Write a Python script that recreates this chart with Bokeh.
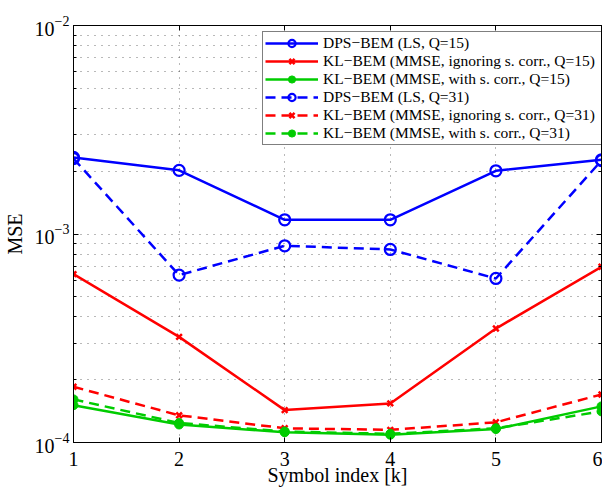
from bokeh.plotting import figure
from bokeh.models import (FixedTicker, LinearAxis, LogAxis, Legend, LegendItem,
                          CustomJSTickFormatter, Range1d)
from bokeh.embed import file_html
from bokeh.resources import INLINE

# ---- data ----
k = [1, 2, 3, 4, 5, 6]
dps_ls_q15 = [2.33e-3, 2.02e-3, 1.17e-3, 1.17e-3, 2.01e-3, 2.27e-3]
kl_ign_q15 = [6.42e-4, 3.21e-4, 1.43e-4, 1.54e-4, 3.52e-4, 6.96e-4]
kl_cor_q15 = [1.51e-4, 1.22e-4, 1.12e-4, 1.09e-4, 1.16e-4, 1.49e-4]
dps_ls_q31 = [2.30e-3, 6.35e-4, 8.78e-4, 8.43e-4, 6.12e-4, 2.25e-3]
kl_ign_q31 = [1.85e-4, 1.35e-4, 1.17e-4, 1.15e-4, 1.25e-4, 1.70e-4]
kl_cor_q31 = [1.61e-4, 1.24e-4, 1.13e-4, 1.10e-4, 1.17e-4, 1.41e-4]

labels = [
    "DPS\u2212BEM (LS, Q=15)",
    "KL\u2212BEM (MMSE, ignoring s. corr., Q=15)",
    "KL\u2212BEM (MMSE, with s. corr., Q=15)",
    "DPS\u2212BEM (LS, Q=31)",
    "KL\u2212BEM (MMSE, ignoring s. corr., Q=31)",
    "KL\u2212BEM (MMSE, with s. corr., Q=31)",
]

x_ticks = [1, 2, 3, 4, 5, 6]
y_major_ticks = [1e-4, 1e-3, 1e-2]
y_minor_ticks = [2e-4, 3e-4, 4e-4, 5e-4, 6e-4, 7e-4, 8e-4, 9e-4,
                 2e-3, 3e-3, 4e-3, 5e-3, 6e-3, 7e-3, 8e-3, 9e-3]

BLUE, RED, GREEN = "#0000ff", "#ff0000", "#00cc00"
FONT = "Liberation Serif"
DASH = "10 6"

p = figure(frame_width=528, frame_height=417, y_axis_type="log",
           x_range=Range1d(1, 6), y_range=Range1d(1e-4, 1e-2),
           output_backend="svg", toolbar_location=None,
           min_border_left=68, min_border_right=1,
           min_border_top=25, min_border_bottom=41,
           background_fill_color="white", border_fill_color="white")
p.outline_line_color = "black"
p.outline_line_width = 1

xt = FixedTicker(ticks=x_ticks)
yt = FixedTicker(ticks=y_major_ticks, minor_ticks=y_minor_ticks)

# axes
p.xaxis.ticker = xt
p.yaxis.ticker = yt
for ax in (p.xaxis[0], p.yaxis[0]):
    ax.major_label_text_font = FONT
    ax.major_label_text_font_size = "20px"
    ax.major_label_text_color = "black"
    ax.axis_label_text_font = FONT
    ax.axis_label_text_font_size = "20px"
    ax.axis_label_text_font_style = "normal"
    ax.axis_label_text_color = "black"
    ax.major_tick_in = 5
    ax.major_tick_out = 0
    ax.minor_tick_in = 3
    ax.minor_tick_out = 0
    ax.axis_line_color = "black"
    ax.major_tick_line_color = "black"
    ax.minor_tick_line_color = "black"
p.xaxis.axis_label = "Symbol index [k]"
p.yaxis.axis_label = "MSE"
p.xaxis.major_label_standoff = 9
p.xaxis.axis_label_standoff = -5
p.yaxis.major_label_standoff = 4
p.yaxis.axis_label_standoff = 6

blank = CustomJSTickFormatter(code="return ''")
top = LinearAxis(ticker=xt, formatter=blank, major_tick_in=5, major_tick_out=0,
                 minor_tick_in=0, minor_tick_out=0, axis_line_color="black",
                 major_label_standoff=0, axis_label_standoff=0,
                 major_label_text_font_size="1px")
right = LogAxis(ticker=yt, formatter=blank, major_tick_in=5, major_tick_out=0,
                minor_tick_in=3, minor_tick_out=0, axis_line_color="black",
                major_label_standoff=0, axis_label_standoff=0,
                major_label_text_font_size="1px")
p.add_layout(top, "above")
p.add_layout(right, "right")

# grid
for g in (p.xgrid[0], p.ygrid[0]):
    g.grid_line_color = "#000000"
    g.grid_line_alpha = 0.55
    g.grid_line_dash = "1 6"
    g.grid_line_width = 1
p.xgrid.ticker = xt
p.ygrid.ticker = yt
p.ygrid.minor_grid_line_color = "#000000"
p.ygrid.minor_grid_line_alpha = 0.55
p.ygrid.minor_grid_line_dash = "1 6"

LW = 2.5
series = [
    (dps_ls_q15, BLUE, "solid", "circle"),
    (kl_ign_q15, RED, "solid", "x"),
    (kl_cor_q15, GREEN, "solid", "dot"),
    (dps_ls_q31, BLUE, DASH, "circle"),
    (kl_ign_q31, RED, DASH, "x"),
    (kl_cor_q31, GREEN, DASH, "dot"),
]

items = []
for (vals, col, dash, mk), lab in zip(series, labels):
    ln = p.line(k, vals, line_color=col, line_width=LW, line_dash=dash)
    if mk == "circle":
        sc = p.scatter(k, vals, marker="circle", size=11, fill_color=None,
                       line_color=col, line_width=2.2)
    elif mk == "x":
        sc = p.scatter(k, vals, marker="x", size=8, line_color=col, line_width=2.5)
    else:
        sc = p.scatter(k, vals, marker="circle", size=9, fill_color=col,
                       line_color=col, line_width=1)
    items.append(LegendItem(label=lab, renderers=[ln, sc]))

legend = Legend(items=items, location=(189, 297),
                label_text_font=FONT, label_text_font_size="15.5px",
                label_text_color="black",
                glyph_width=53, glyph_height=18, label_height=18,
                label_width=276, label_standoff=5,
                spacing=0, padding=2, margin=0,
                border_line_color="black", border_line_width=1,
                background_fill_color="white", background_fill_alpha=1)
p.add_layout(legend, "center")

open("out.html", "w").write(file_html(p, INLINE))
